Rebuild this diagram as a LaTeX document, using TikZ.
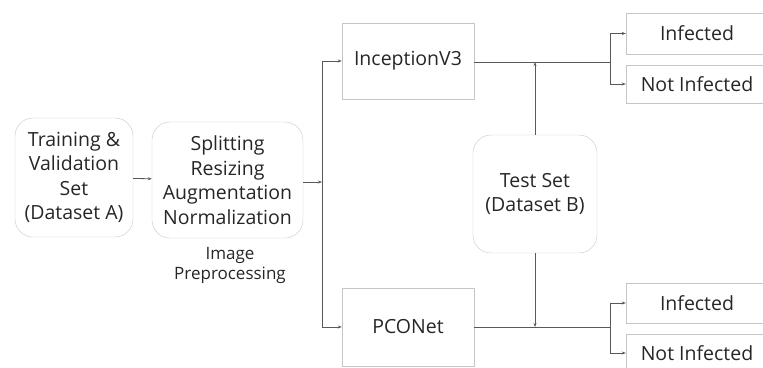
\documentclass[tikz,border=0pt]{standalone}
\usepackage{fontspec}
\setmainfont{Open Sans}
\usetikzlibrary{arrows.meta}
\tikzset{
  databox/.style={draw=gray!45, rounded corners=18pt, align=center, inner sep=0pt, font=\fontsize{19.5}{24.5}\selectfont, text=black!85},
  netbox/.style={draw=gray!45, inner sep=0pt, font=\fontsize{19.5}{24.5}\selectfont, text=black!85},
  outbox/.style={draw=gray!45, inner sep=0pt, minimum width=142pt, font=\fontsize{19.5}{24.5}\selectfont, text=black!85},
  conn/.style={draw=black!65, line width=0.8pt},
  arr/.style={conn, -{Stealth[length=4pt,width=3pt]}}
}
\begin{document}
\begin{tikzpicture}[x=1pt, y=-1pt]
\useasboundingbox (0,0) rectangle (763,367);
\clip (0,0) rectangle (763,367);
\node[databox, minimum width=118pt, minimum height=119pt] (TVSet) at (74,177.5) {Training \&\\Validation\\Set\\(Dataset A)};
\node[databox, minimum width=151pt, minimum height=116pt] (Prep) at (227.5,180) {Splitting\\Resizing\\Augmentation\\Normalization};
\node[align=center, inner sep=0pt, font=\fontsize{17}{20}\selectfont, text=black!85] (PrepLbl) at (230,265) {Image\\Preprocessing};
\node[netbox, minimum width=132pt, minimum height=76pt] (Incep) at (408,61) {InceptionV3};
\node[netbox, minimum width=132pt, minimum height=78pt] (PCO) at (408,327) {PCONet};
\node[databox, minimum width=124pt, minimum height=118pt] (Test) at (535,194) {Test Set\\(Dataset B)};
\node[outbox, minimum height=41pt] (IncepInf) at (697,33.5) {Infected};
\node[outbox, minimum height=38pt] (IncepNot) at (697,84) {Not Infected};
\node[outbox, minimum height=40pt] (PCOInf) at (697,303) {Infected};
\node[outbox, minimum height=38pt] (PCONot) at (697,353) {Not Infected};
\coordinate (Split) at (322,182);
\coordinate (TopJoin) at (535,62);
\coordinate (BotJoin) at (535,327);
\coordinate (TopFork) at (610,62);
\coordinate (BotFork) at (610,327);
\draw[arr] (TVSet) -- (Prep);
\draw[arr] (Prep.east |- Split) -- (Split);
\draw[arr] (Split) |- (Incep.west);
\draw[arr] (Split) |- (PCO.west);
\draw[conn] (Incep.east |- TopFork) -- (TopFork);
\draw[conn] (PCO.east |- BotFork) -- (BotFork);
\draw[arr] (Test) -- (TopJoin);
\draw[arr] (Test) -- (BotJoin);
\draw[arr] (TopFork) |- (IncepInf.west);
\draw[arr] (TopFork) |- (IncepNot.west);
\draw[arr] (BotFork) |- (PCOInf.west);
\draw[arr] (BotFork) |- (PCONot.west);
\end{tikzpicture}
\end{document}
